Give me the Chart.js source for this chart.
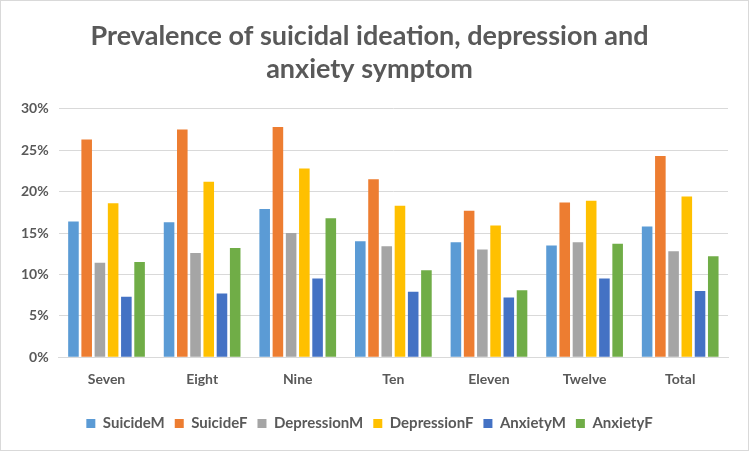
<!DOCTYPE html>
<html>
<head>
<meta charset="utf-8">
<script src="https://cdn.jsdelivr.net/npm/chart.js@4"></script>
<style>
  html, body { margin: 0; padding: 0; background: #ffffff; }
  .wrap {
    width: 747px;
    height: 449px;
    border: 1px solid #d9d9d9;
    position: relative;
  }
</style>
</head>
<body>
<div class="wrap"><canvas id="chart"></canvas></div>
<script>
const grades = ["Seven", "Eight", "Nine", "Ten", "Eleven", "Twelve", "Total"];

const suicideM = [16.4, 16.3, 17.9, 14.0, 13.9, 13.5, 15.8];
const suicideF = [26.3, 27.5, 27.8, 21.5, 17.7, 18.7, 24.3];
const depressionM = [11.4, 12.6, 15.0, 13.4, 13.0, 13.9, 12.8];
const depressionF = [18.6, 21.2, 22.8, 18.3, 15.9, 18.9, 19.4];
const anxietyM = [7.3, 7.7, 9.5, 7.9, 7.2, 9.5, 8.0];
const anxietyF = [11.5, 13.2, 16.8, 10.5, 8.1, 13.7, 12.2];

const titleLines = ["Prevalence of suicidal ideation, depression and", "anxiety symptom"];
const textColor = "#595959";
const fontFamily = "Lato, 'Open Sans', sans-serif";

function bar(label, data, color) {
  return {
    label,
    data,
    backgroundColor: color,
    borderWidth: 0,
    categoryPercentage: 0.83,
    barPercentage: 0.8,
  };
}

new Chart(document.getElementById("chart"), {
  type: "bar",
  data: {
    labels: grades,
    datasets: [
      bar("SuicideM", suicideM, "#5b9bd5"),
      bar("SuicideF", suicideF, "#ed7d31"),
      bar("DepressionM", depressionM, "#a5a5a5"),
      bar("DepressionF", depressionF, "#ffc000"),
      bar("AnxietyM", anxietyM, "#4472c4"),
      bar("AnxietyF", anxietyF, "#70ad47"),
    ],
  },
  options: {
    responsive: true,
    maintainAspectRatio: false,
    animation: false,
    layout: {
      padding: { left: 10, right: 20, top: 0, bottom: 9 },
    },
    plugins: {
      title: {
        display: true,
        text: titleLines,
        color: textColor,
        font: { family: fontFamily, size: 27, weight: "bold", lineHeight: 1.22 },
        padding: { top: 19, bottom: 23 },
      },
      legend: {
        position: "bottom",
        labels: {
          color: textColor,
          font: { family: fontFamily, size: 15, weight: "bold" },
          boxWidth: 9,
          boxHeight: 9,
          padding: 10,
        },
      },
      tooltip: { enabled: false },
    },
    scales: {
      x: {
        grid: { display: false },
        border: { color: "#d9d9d9" },
        ticks: {
          color: textColor,
          font: { family: fontFamily, size: 14, weight: "bold" },
          padding: 6,
        },
        afterFit: (scale) => {
          scale.height += 12;
        },
      },
      y: {
        min: 0,
        max: 30,
        border: { display: false },
        grid: { color: "#d9d9d9", drawTicks: false },
        ticks: {
          stepSize: 5,
          color: textColor,
          font: { family: fontFamily, size: 14, weight: "bold" },
          padding: 10,
          callback: (val) => `${val}%`,
        },
      },
    },
  },
});
</script>
</body>
</html>
